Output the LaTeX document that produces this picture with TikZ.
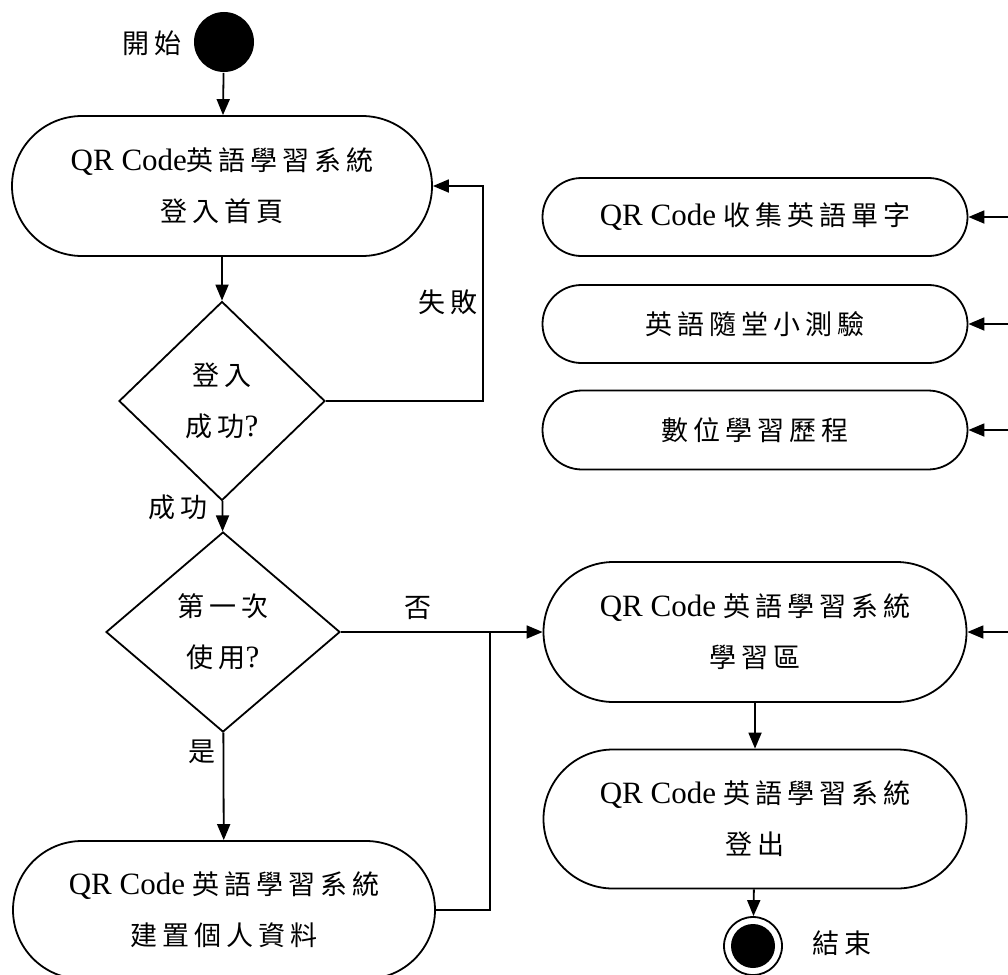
\documentclass[tikz,border=0pt]{standalone}
\usepackage{fontspec}
\setmainfont{Liberation Serif}
\newfontfamily\cjk{Noto Sans CJK TC}[LetterSpace=18]
\usetikzlibrary{shapes.geometric,shapes.misc,arrows.meta}
\newcommand\zh[1]{{\cjk\fontsize{27}{51}\selectfont #1}}
\tikzset{
  txt/.style={font=\fontsize{31}{51}\selectfont},
  box/.style={rounded rectangle, draw, inner sep=0pt, align=center, txt},
  dec/.style={diamond, draw, inner sep=0pt, align=center, txt},
  lab/.style={inner sep=0pt, txt},
  arr/.style={-{Triangle[length=16pt,width=13pt]}}
}
\begin{document}
\begin{tikzpicture}[x=1pt, y=-1pt, line width=1.8pt]
\useasboundingbox (0,0) rectangle (1008,974);
% start
\node[circle, fill=black, minimum size=60pt, inner sep=0pt] (start) at (224,42) {};
\node[lab] (lstart) at (152,43) {\zh{開始}};
% left column
\node[box, minimum width=420pt, minimum height=140pt] (b1) at (222,186)
  {QR Code\zh{英語學習系統}\\\zh{登入首頁}};
\node[dec, minimum width=206pt, minimum height=199pt] (d1) at (222,401)
  {\zh{登入}\\\zh{成功}?};
\node[dec, minimum width=234pt, minimum height=200pt] (d2) at (223,632)
  {\zh{第一次}\\\zh{使用}?};
\node[box, minimum width=422pt, minimum height=138pt] (b5) at (224,910)
  {QR Code \zh{英語學習系統}\\\zh{建置個人資料}};
% right column
\node[box, minimum width=425pt, minimum height=78pt] (b2) at (755,217)
  {QR Code \zh{收集英語單字}};
\node[box, minimum width=425pt, minimum height=78pt] (b3) at (755,324)
  {\zh{英語隨堂小測驗}};
\node[box, minimum width=425pt, minimum height=79pt] (b4) at (755,430)
  {\zh{數位學習歷程}};
\node[box, minimum width=423pt, minimum height=140pt] (b6) at (755,632)
  {QR Code \zh{英語學習系統}\\\zh{學習區}};
\node[box, minimum width=423pt, minimum height=139pt] (b7) at (755,819)
  {QR Code \zh{英語學習系統}\\\zh{登出}};
% end
\node[circle, draw, minimum size=58pt, inner sep=0pt] (end) at (753,946) {};
\fill (end.center) circle (22pt);
\node[lab] (lend) at (842,943) {\zh{結束}};
% labels
\node[lab] (lfail) at (448,302) {\zh{失敗}};
\node[lab] (lok) at (178,507) {\zh{成功}};
\node[lab] (lno) at (418,608) {\zh{否}};
\node[lab] (lyes) at (202,752) {\zh{是}};
% coordinates
\coordinate (f) at (483,186);
\coordinate (j) at (490,632);
\coordinate (r2) at (1008,217);
\coordinate (r3) at (1008,324);
\coordinate (r4) at (1008,430);
\coordinate (r6) at (1008,632);
% connectors
\draw[arr] (start) -- (b1);
\draw[arr] (b1) -- (d1);
\draw[arr] (d1.east) -| (f) -- (b1.east);
\draw[arr] (d1) -- (d2);
\draw[arr] (d2.east) -- (b6.west);
\draw[arr] (d2) -- (b5);
\draw (b5.east) -| (j);
\draw[arr] (r2) -- (b2.east);
\draw[arr] (r3) -- (b3.east);
\draw[arr] (r4) -- (b4.east);
\draw[arr] (r6) -- (b6.east);
\draw[arr] (b6) -- (b7);
\draw[arr] (b7) -- (end);
\end{tikzpicture}
\end{document}
